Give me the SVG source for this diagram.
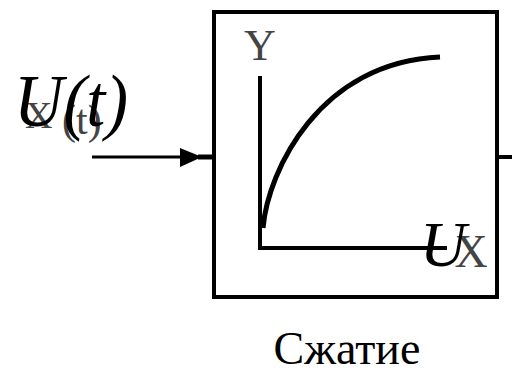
<svg xmlns="http://www.w3.org/2000/svg" width="512" height="374" viewBox="0 0 512 374">
<style>
.ln{stroke:#000;fill:none}
.big{font-family:"Liberation Serif","Times New Roman",serif;font-style:italic;fill:#000}
.gr{font-family:"Liberation Serif","Times New Roman",serif;fill:#444}
.cap{font-family:"Liberation Serif","Times New Roman",serif;fill:#000}
</style>
<rect width="512" height="374" fill="#fff"/>
<g id="block">
<rect x="214" y="12" width="283" height="285" class="ln" stroke-width="4"/>
<g id="graph">
<path d="M260,76 V248 H447" class="ln" stroke-width="4"/>
<path d="M263,228 C268,170 320,62 440,57" class="ln" stroke-width="5"/>
<text x="260" y="60" class="gr" font-size="44" text-anchor="middle">Y</text>
<text x="471" y="267" class="gr" font-size="46" text-anchor="middle">X</text>
<text x="420" y="266" class="big" font-size="64">U</text>
</g>
</g>
<g id="input-label">
<text x="25" y="128" class="gr" font-size="38">X</text>
<text x="62" y="134" class="gr" font-size="42">(t)</text>
<text x="14" y="126" class="big" font-size="74" textLength="114" lengthAdjust="spacingAndGlyphs">U(t)</text>
</g>
<g id="caption">
<text x="347" y="364" class="cap" font-size="46" text-anchor="middle">Сжатие</text>
</g>
<g id="connectors">
<line x1="92" y1="157" x2="186" y2="157" class="ln" stroke-width="3"/>
<path d="M180,148 L202,157 L180,167 z" fill="#000"/>
<line x1="198" y1="157" x2="214" y2="157" class="ln" stroke-width="5"/>
<line x1="497" y1="157" x2="512" y2="157" class="ln" stroke-width="4"/>
</g>
</svg>
